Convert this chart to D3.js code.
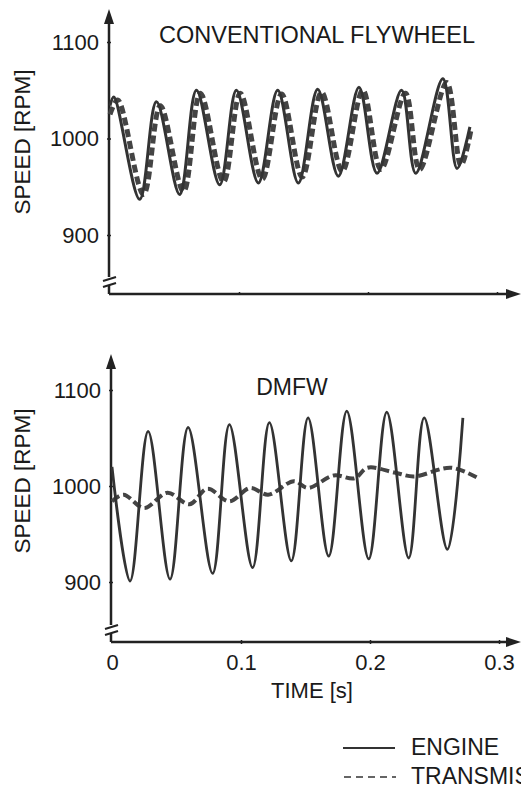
<!DOCTYPE html>
<html>
<head>
<meta charset="utf-8">
<script src="https://cdn.jsdelivr.net/npm/d3@7"></script>
<style>
  html, body { margin: 0; padding: 0; background: #fff; }
  svg { display: block; }
  text { font-family: "Liberation Sans", Arial, sans-serif; fill: #1a1a1a; }
</style>
</head>
<body>
<script>
// ---------- DATA ----------
const yTicks = [900, 1000, 1100];
const xTicks = [0, 0.1, 0.2, 0.3];
const xTickLabels = ["0", "0.1", "0.2", "0.3"];

const topTitle = "CONVENTIONAL FLYWHEEL";
const botTitle = "DMFW";
const yLabel = "SPEED [RPM]";
const xLabel = "TIME [s]";
const legendLabels = ["ENGINE", "TRANSMISSION"];

// Conventional flywheel
const topEngineT = [0, 0.003, 0.023, 0.036, 0.054, 0.067, 0.085, 0.098, 0.115, 0.130, 0.146, 0.161, 0.177, 0.193, 0.207, 0.226, 0.237, 0.258, 0.269, 0.279];
const topEngineV = [1034, 1043, 937, 1038, 942, 1050, 952, 1050, 954, 1050, 954, 1051, 961, 1053, 964, 1050, 964, 1062, 969, 1012];
const topTransT  = [0, 0.006, 0.026, 0.039, 0.057, 0.070, 0.088, 0.101, 0.118, 0.133, 0.149, 0.164, 0.180, 0.196, 0.210, 0.229, 0.240, 0.261, 0.272, 0.280];
const topTransV  = [1025, 1040, 942, 1034, 945, 1047, 955, 1047, 958, 1046, 960, 1048, 966, 1050, 968, 1047, 968, 1058, 972, 1010];

// DMFW
const botEngineT = [0, 0.014, 0.028, 0.045, 0.059, 0.078, 0.091, 0.109, 0.122, 0.139, 0.152, 0.168, 0.182, 0.199, 0.213, 0.230, 0.242, 0.260, 0.272];
const botEngineV = [1020, 901, 1057, 903, 1061, 909, 1064, 915, 1066, 922, 1071, 927, 1078, 924, 1077, 925, 1071, 934, 1071];
const botTransT  = [0, 0.009, 0.025, 0.043, 0.060, 0.074, 0.091, 0.107, 0.121, 0.141, 0.152, 0.172, 0.188, 0.198, 0.219, 0.234, 0.263, 0.284];
const botTransV  = [984, 991, 977, 993, 981, 997, 984, 998, 991, 1005, 998, 1011, 1008, 1019, 1014, 1010, 1019, 1008];

// ---------- DRAWING ----------
const W = 521, H = 794;
const svg = d3.select("body").append("svg").attr("width", W).attr("height", H);

const ink = "#222";
const curve = d3.curveCatmullRom.alpha(0.5);
const tickFont = 22;

function panel(cfg) {
  const x = d3.scaleLinear().domain([0, 0.3]).range([cfg.x0, cfg.x0 + 387]);
  const y = d3.scaleLinear().domain([900, 1100]).range([cfg.y900, cfg.y1100]);
  const g = svg.append("g");

  const axisX = cfg.x0 - 1;
  // y axis line with arrow and break
  g.append("line").attr("x1", axisX).attr("x2", axisX)
    .attr("y1", cfg.arrowTop + 10).attr("y2", cfg.breakY - 2)
    .attr("stroke", ink).attr("stroke-width", 2.5);
  g.append("line").attr("x1", axisX).attr("x2", axisX)
    .attr("y1", cfg.breakY + 6).attr("y2", cfg.xAxisY)
    .attr("stroke", ink).attr("stroke-width", 2.5);
  g.append("path")
    .attr("d", `M${axisX},${cfg.arrowTop} L${axisX - 5},${cfg.arrowTop + 15} L${axisX + 5},${cfg.arrowTop + 15} Z`)
    .attr("fill", ink);
  // break marks
  [0, 6].forEach(dy => {
    g.append("line")
      .attr("x1", axisX - 6).attr("y1", cfg.breakY + 2 + dy)
      .attr("x2", axisX + 7).attr("y2", cfg.breakY - 2 + dy)
      .attr("stroke", ink).attr("stroke-width", 2);
  });
  // x axis line with arrow
  g.append("line").attr("x1", axisX).attr("x2", 514)
    .attr("y1", cfg.xAxisY).attr("y2", cfg.xAxisY)
    .attr("stroke", ink).attr("stroke-width", 2.5);
  g.append("path")
    .attr("d", `M521,${cfg.xAxisY} L506,${cfg.xAxisY - 5} L506,${cfg.xAxisY + 5} Z`)
    .attr("fill", ink);

  // y ticks and labels
  const ya = d3.axisLeft(y).tickValues(yTicks).tickSize(4).tickPadding(8).tickFormat(d3.format("d"));
  const yg = g.append("g").attr("transform", `translate(${axisX + 2},0)`).call(ya);
  yg.select(".domain").remove();
  yg.selectAll(".tick line").attr("stroke", ink).attr("stroke-width", 1.5);
  yg.selectAll(".tick text").attr("font-size", tickFont).attr("fill", "#1a1a1a")
    .style("font-family", "'Liberation Sans', Arial, sans-serif");

  // x ticks
  const xa = d3.axisBottom(x).tickValues(xTicks).tickSize(cfg.xLabels ? 4 : 3).tickPadding(10)
    .tickFormat((d, i) => cfg.xLabels ? xTickLabels[i] : "");
  const xg = g.append("g").attr("transform", `translate(0,${cfg.xAxisY - 2})`).call(xa);
  xg.select(".domain").remove();
  xg.selectAll(".tick line").attr("stroke", ink).attr("stroke-width", 1.5);
  xg.selectAll(".tick").filter(d => d === 0).select("line").remove();
  xg.selectAll(".tick text").attr("font-size", tickFont).attr("fill", "#1a1a1a")
    .style("font-family", "'Liberation Sans', Arial, sans-serif");

  // y label
  g.append("text")
    .attr("transform", `translate(${cfg.labelX},${cfg.labelY}) rotate(-90)`)
    .attr("text-anchor", "middle").attr("font-size", 22.5).text(yLabel);

  // title
  g.append("text").attr("x", cfg.titleX).attr("y", cfg.titleY)
    .attr("text-anchor", "middle").attr("font-size", cfg.titleSize).text(cfg.title);

  // series
  const line = d3.line().x(d => x(d[0])).y(d => y(d[1])).curve(curve);
  const eng = cfg.engT.map((t, i) => [t, cfg.engV[i]]);
  const tra = cfg.traT.map((t, i) => [t, cfg.traV[i]]);
  g.append("path").datum(tra).attr("d", line)
    .attr("fill", "none").attr("stroke", "#444").attr("stroke-width", cfg.dashW)
    .attr("stroke-dasharray", cfg.dash).attr("stroke-linejoin", "round");
  g.append("path").datum(eng).attr("d", line)
    .attr("fill", "none").attr("stroke", "#333").attr("stroke-width", cfg.solidW)
    .attr("stroke-linejoin", "round");
}

panel({
  x0: 110, y900: 235, y1100: 42, arrowTop: 9, breakY: 279, xAxisY: 294,
  xLabels: false, labelX: 30, labelY: 142, title: topTitle, titleX: 317, titleY: 43, titleSize: 23.5,
  engT: topEngineT, engV: topEngineV, traT: topTransT, traV: topTransV,
  solidW: 3, dashW: 5, dash: "8,4"
});

panel({
  x0: 112, y900: 582, y1100: 390, arrowTop: 354, breakY: 627, xAxisY: 642,
  xLabels: true, labelX: 30, labelY: 481, title: botTitle, titleX: 292, titleY: 395, titleSize: 23,
  engT: botEngineT, engV: botEngineV, traT: botTransT, traV: botTransV,
  solidW: 2.8, dashW: 4, dash: "9,4"
});

// x label
svg.append("text").attr("x", 312).attr("y", 698).attr("text-anchor", "middle")
  .attr("font-size", 22).text(xLabel);

// legend
const lg = svg.append("g");
lg.append("line").attr("x1", 343).attr("x2", 395).attr("y1", 748).attr("y2", 748)
  .attr("stroke", "#333").attr("stroke-width", 2);
lg.append("text").attr("x", 411).attr("y", 755).attr("font-size", 23).text(legendLabels[0]);
lg.append("line").attr("x1", 344).attr("x2", 396).attr("y1", 777).attr("y2", 777)
  .attr("stroke", "#333").attr("stroke-width", 1.6).attr("stroke-dasharray", "7,5");
lg.append("text").attr("x", 411).attr("y", 784).attr("font-size", 23).text(legendLabels[1]);
</script>
</body>
</html>
